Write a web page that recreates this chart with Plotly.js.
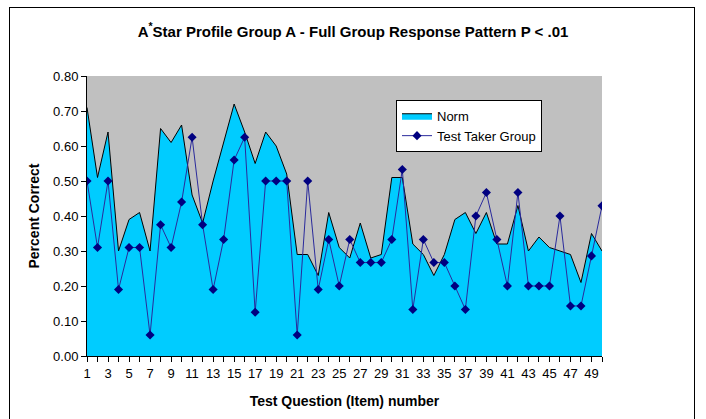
<!DOCTYPE html>
<html>
<head>
<meta charset="utf-8">
<script src="https://cdn.plot.ly/plotly-3.0.1.min.js"></script>
<style>
  body { margin: 0; background: #fff; }
  #frame { position: absolute; left: 9px; top: 7px; width: 684px; height: 430px; border: 1px solid #000; }
  #grafico { position: absolute; left: 0; top: 0; width: 706px; height: 419px; }
</style>
</head>
<body>
<div id="frame"></div>
<div id="grafico"></div>
<script>
// itens do teste 1..50
const items = Array.from({ length: 50 }, (_, i) => i + 1)

// valores
const norm = [
  0.71, 0.51, 0.64, 0.30, 0.39, 0.41, 0.30, 0.65, 0.61, 0.66,
  0.46, 0.38, 0.50, 0.61, 0.72, 0.64, 0.55, 0.64, 0.60, 0.52,
  0.29, 0.29, 0.23, 0.41, 0.31, 0.28, 0.38, 0.28, 0.29, 0.51,
  0.51, 0.32, 0.29, 0.23, 0.29, 0.39, 0.41, 0.35, 0.41, 0.32,
  0.32, 0.43, 0.30, 0.34, 0.31, 0.30, 0.29, 0.21, 0.35, 0.30
]
const testTaker = [
  0.50, 0.31, 0.50, 0.19, 0.31, 0.31, 0.06, 0.375, 0.31, 0.44,
  0.625, 0.375, 0.19, 0.333, 0.56, 0.625, 0.125, 0.50, 0.50, 0.50,
  0.06, 0.50, 0.19, 0.333, 0.20, 0.333, 0.267, 0.267, 0.267, 0.333,
  0.533, 0.133, 0.333, 0.267, 0.267, 0.20, 0.133, 0.40, 0.467, 0.333,
  0.20, 0.467, 0.20, 0.20, 0.20, 0.40, 0.143, 0.143, 0.286, 0.429
]

const fonte = 'Liberation Sans Narrow, Arial Narrow, Liberation Sans, Arial, sans-serif'

const data = [
  {
    x: items,
    y: norm,
    name: 'Norm',
    type: 'scatter',
    mode: 'lines',
    fill: 'tozeroy',
    fillcolor: '#00ccff',
    line: { color: '#000000', width: 1 }
  },
  {
    x: items,
    y: testTaker,
    name: 'Test Taker Group',
    type: 'scatter',
    mode: 'lines+markers',
    line: { color: '#2a2a9c', width: 1 },
    marker: { symbol: 'diamond', size: 7, color: '#000080' }
  }
]

const layout = {
  width: 706,
  height: 419,
  margin: { l: 87, r: 104, t: 76, b: 63 },
  paper_bgcolor: 'rgba(0,0,0,0)',
  plot_bgcolor: '#c0c0c0',
  font: { family: fonte, size: 12, color: '#000' },
  title: {
    text: '<b>A<sup>*</sup>Star Profile Group A - Full Group Response Pattern P < .01</b>',
    font: { family: fonte, size: 15, color: '#000' },
    x: 0.5, xanchor: 'center', y: 0.925, yanchor: 'middle'
  },
  xaxis: {
    range: [1, 50],
    tick0: 1,
    dtick: 2,
    ticks: 'outside',
    ticklen: 5,
    tickcolor: '#000',
    minor: { dtick: 1, tick0: 1, ticks: 'outside', ticklen: 5, tickcolor: '#000', showgrid: false },
    showline: true,
    linecolor: '#000',
    linewidth: 1,
    showgrid: false,
    zeroline: false,
    tickfont: { family: fonte, size: 13 },
    title: { text: '<b>Test Question (Item) number</b>', font: { family: fonte, size: 14 }, standoff: 16 }
  },
  yaxis: {
    range: [0, 0.8],
    dtick: 0.1,
    tickformat: '.2f',
    ticks: 'outside',
    ticklen: 5,
    tickcolor: '#000',
    showline: true,
    linecolor: '#000',
    linewidth: 1,
    showgrid: false,
    zeroline: false,
    tickfont: { family: fonte, size: 13 },
    title: { text: '<b>Percent Correct</b>', font: { family: fonte, size: 14 }, standoff: 10 }
  },
  legend: {
    x: 0.6, y: 0.915, xanchor: 'left', yanchor: 'top',
    bgcolor: '#ffffff',
    bordercolor: '#000',
    borderwidth: 1,
    font: { family: 'Liberation Sans, Arial, sans-serif', size: 13 },
    tracegroupgap: 2
  },
  showlegend: true
}

Plotly.newPlot('grafico', data, layout, { displayModeBar: false })
</script>
</body>
</html>
